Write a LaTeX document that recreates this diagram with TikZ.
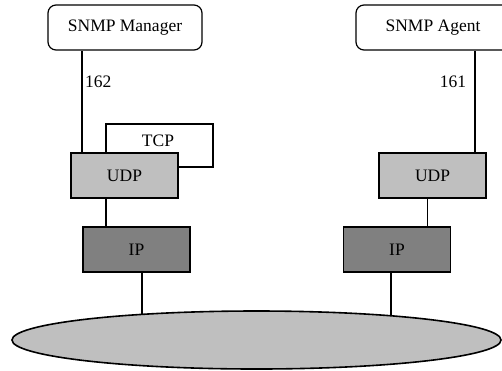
\documentclass[tikz,border=0pt]{standalone}
\usepackage{fontspec}
\setmainfont{Liberation Serif}
\usepackage{tikz}
\usetikzlibrary{shapes.geometric}

\begin{document}
\begin{tikzpicture}[x=1pt,y=-1pt,line width=1.6pt,
    font=\fontsize{17.5}{20}\selectfont,
    app/.style={draw,line width=1.2pt,rounded corners=8pt,minimum width=154pt,minimum height=45pt,inner sep=0pt},
    layer/.style={draw,minimum width=107pt,minimum height=45pt,inner sep=0pt},
    udpbox/.style={layer,fill=black!25},
    ipbox/.style={layer,fill=black!50}]
    \useasboundingbox (0,0) rectangle (502,370);
    \node[app] (mgr) at (125,27.5) {SNMP Manager};
    \node[app] (agent) at (433,27.5) {SNMP Agent};
    \node[draw,minimum width=107pt,minimum height=43pt] (tcp) at (159.5,145.5) {};
    \node at (158,141) {TCP};
    \node[udpbox] (udpL) at (124.5,175.5) {UDP};
    \node[udpbox] (udpR) at (432.5,175.5) {UDP};
    \node[ipbox] (ipL) at (136.5,249.5) {IP};
    \node[ipbox] (ipR) at (397,249.5) {IP};
    \coordinate (netc) at (256.5,340);
    % ports
    \draw ([xshift=12pt]udpL.north west) -- ([xshift=12pt]udpL.north west |- mgr.south)
        node[pos=0.69,anchor=west,inner sep=2pt] {162};
    \draw ([xshift=-12pt]udpR.north east) -- ([xshift=-12pt]udpR.north east |- agent.south)
        node[pos=0.69,anchor=east,inner sep=8pt] {161};
    \draw ([xshift=24pt]ipL.north west) -- ([xshift=24pt]ipL.north west |- udpL.south);
    \draw ([xshift=-24pt]ipR.north east) -- ([xshift=-24pt]ipR.north east |- udpR.south);
    \draw ([xshift=5.5pt]ipL.south) -- ([xshift=5.5pt]ipL.south |- netc);
    \draw ([xshift=-6pt]ipR.south) -- ([xshift=-6pt]ipR.south |- netc);
    \node[draw,ellipse,fill=black!25,minimum width=489pt,minimum height=58pt,inner sep=0pt] (net) at (netc) {};
\end{tikzpicture}
\end{document}
